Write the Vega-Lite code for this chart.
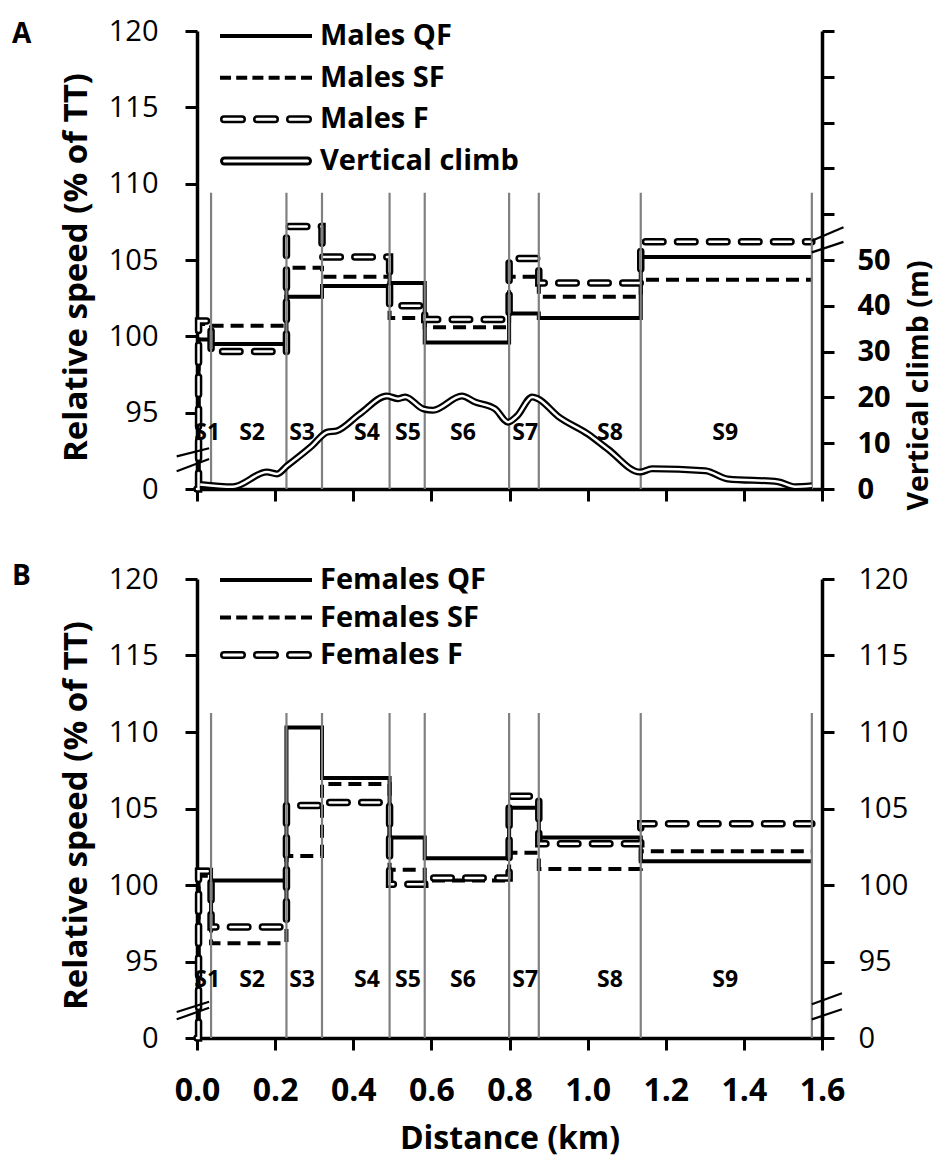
{
  "$schema": "https://vega.github.io/schema/vega-lite/v6.json",
  "background": "white",
  "padding": {"left": 12, "top": 17, "right": 2, "bottom": 2},
  "config": {
    "view": {"stroke": null},
    "font": "Open Sans",
    "axis": {
      "grid": false, "domainColor": "black", "domainWidth": 3.5, "tickColor": "black",
      "tickWidth": 3, "tickSize": 12, "labelColor": "black", "labelFont": "Open Sans",
      "labelFontSize": 29, "labelFontWeight": "normal", "labelFlush": false, "labelOverlap": false,
      "titleFont": "Open Sans", "titleFontSize": 31, "titleFontWeight": "bold", "titleColor": "black"
    }
  },
  "datasets": {
    "males": [
      {"series": "Males QF", "d": 0, "v": 90}, {"series": "Males QF", "d": 0.004, "v": 99.8},
      {"series": "Males QF", "d": 0.036, "v": 99.5}, {"series": "Males QF", "d": 0.229, "v": 102.6},
      {"series": "Males QF", "d": 0.32, "v": 103.3}, {"series": "Males QF", "d": 0.493, "v": 103.5},
      {"series": "Males QF", "d": 0.583, "v": 99.6}, {"series": "Males QF", "d": 0.799, "v": 101.5},
      {"series": "Males QF", "d": 0.875, "v": 101.2}, {"series": "Males QF", "d": 1.136, "v": 105.2},
      {"series": "Males QF", "d": 1.574, "v": 105.2},
      {"series": "Males SF", "d": 0, "v": 90}, {"series": "Males SF", "d": 0.004, "v": 100.8},
      {"series": "Males SF", "d": 0.036, "v": 100.7}, {"series": "Males SF", "d": 0.229, "v": 104.5},
      {"series": "Males SF", "d": 0.32, "v": 103.9}, {"series": "Males SF", "d": 0.493, "v": 101.2},
      {"series": "Males SF", "d": 0.583, "v": 100.6}, {"series": "Males SF", "d": 0.799, "v": 103.9},
      {"series": "Males SF", "d": 0.875, "v": 102.6}, {"series": "Males SF", "d": 1.136, "v": 103.7},
      {"series": "Males SF", "d": 1.574, "v": 103.7},
      {"series": "Males F", "d": 0, "v": 90}, {"series": "Males F", "d": 0.004, "v": 101.0},
      {"series": "Males F", "d": 0.036, "v": 99.0}, {"series": "Males F", "d": 0.229, "v": 107.2},
      {"series": "Males F", "d": 0.32, "v": 105.2}, {"series": "Males F", "d": 0.493, "v": 102.0},
      {"series": "Males F", "d": 0.583, "v": 101.1}, {"series": "Males F", "d": 0.799, "v": 105.1},
      {"series": "Males F", "d": 0.875, "v": 103.5}, {"series": "Males F", "d": 1.136, "v": 106.2},
      {"series": "Males F", "d": 1.574, "v": 106.2}
    ],
    "females": [
      {"series": "Females QF", "d": 0, "v": 90}, {"series": "Females QF", "d": 0.004, "v": 101.0},
      {"series": "Females QF", "d": 0.036, "v": 100.3}, {"series": "Females QF", "d": 0.229, "v": 110.3},
      {"series": "Females QF", "d": 0.32, "v": 107.0}, {"series": "Females QF", "d": 0.493, "v": 103.1},
      {"series": "Females QF", "d": 0.583, "v": 101.75}, {"series": "Females QF", "d": 0.799, "v": 105.05},
      {"series": "Females QF", "d": 0.875, "v": 103.1}, {"series": "Females QF", "d": 1.136, "v": 101.55},
      {"series": "Females QF", "d": 1.574, "v": 101.55},
      {"series": "Females SF", "d": 0, "v": 90}, {"series": "Females SF", "d": 0.004, "v": 100.6},
      {"series": "Females SF", "d": 0.036, "v": 96.2}, {"series": "Females SF", "d": 0.229, "v": 101.9},
      {"series": "Females SF", "d": 0.32, "v": 106.6}, {"series": "Females SF", "d": 0.493, "v": 101.0},
      {"series": "Females SF", "d": 0.583, "v": 100.3}, {"series": "Females SF", "d": 0.799, "v": 102.1},
      {"series": "Females SF", "d": 0.875, "v": 101.05}, {"series": "Females SF", "d": 1.136, "v": 102.2},
      {"series": "Females SF", "d": 1.574, "v": 102.2},
      {"series": "Females F", "d": 0, "v": 90}, {"series": "Females F", "d": 0.004, "v": 100.9},
      {"series": "Females F", "d": 0.036, "v": 97.25}, {"series": "Females F", "d": 0.229, "v": 105.2},
      {"series": "Females F", "d": 0.32, "v": 105.4}, {"series": "Females F", "d": 0.493, "v": 100.05},
      {"series": "Females F", "d": 0.583, "v": 100.45}, {"series": "Females F", "d": 0.799, "v": 105.8},
      {"series": "Females F", "d": 0.875, "v": 102.7}, {"series": "Females F", "d": 1.136, "v": 104.0},
      {"series": "Females F", "d": 1.574, "v": 104.0}
    ],
    "climb": [
      {"d": 0.008, "m": 1.0}, {"d": 0.092, "m": 0.5}, {"d": 0.179, "m": 3.7}, {"d": 0.205, "m": 3.3},
      {"d": 0.23, "m": 5.0}, {"d": 0.294, "m": 9.4}, {"d": 0.333, "m": 12.4}, {"d": 0.358, "m": 12.7},
      {"d": 0.417, "m": 16.4}, {"d": 0.486, "m": 20.3}, {"d": 0.515, "m": 19.7}, {"d": 0.533, "m": 20.1},
      {"d": 0.579, "m": 17.5}, {"d": 0.604, "m": 17.2}, {"d": 0.678, "m": 20.3}, {"d": 0.712, "m": 19.0},
      {"d": 0.763, "m": 17.5}, {"d": 0.796, "m": 14.6}, {"d": 0.819, "m": 15.9}, {"d": 0.858, "m": 20.1},
      {"d": 0.873, "m": 19.7}, {"d": 0.924, "m": 15.9}, {"d": 1.001, "m": 12.0}, {"d": 1.052, "m": 8.7},
      {"d": 1.134, "m": 3.7}, {"d": 1.165, "m": 4.4}, {"d": 1.301, "m": 4.0}, {"d": 1.359, "m": 2.2},
      {"d": 1.487, "m": 1.6}, {"d": 1.531, "m": 0.5}, {"d": 1.574, "m": 0.7}
    ],
    "segments": [
      {"seg": "S1", "end": 0.036, "lx": 0.026}, {"seg": "S2", "end": 0.229, "lx": 0.141},
      {"seg": "S3", "end": 0.32, "lx": 0.269}, {"seg": "S4", "end": 0.493, "lx": 0.435},
      {"seg": "S5", "end": 0.583, "lx": 0.54}, {"seg": "S6", "end": 0.799, "lx": 0.681},
      {"seg": "S7", "end": 0.875, "lx": 0.84}, {"seg": "S8", "end": 1.136, "lx": 1.057},
      {"seg": "S9", "end": 1.574, "lx": 1.352}
    ],
    "breaks": [
      {"panel": "A", "side": "left", "d0": -0.052, "d1": 0.031, "v0": 92.14, "v1": 92.67},
      {"panel": "A", "side": "left", "d0": -0.052, "d1": 0.031, "v0": 91.16, "v1": 91.96},
      {"panel": "A", "side": "right", "d0": 1.574, "d1": 1.655, "v0": 106.26, "v1": 107.14},
      {"panel": "A", "side": "right", "d0": 1.574, "d1": 1.655, "v0": 105.5, "v1": 106.19},
      {"panel": "B", "side": "left", "d0": -0.052, "d1": 0.031, "v0": 91.7, "v1": 92.37},
      {"panel": "B", "side": "left", "d0": -0.052, "d1": 0.031, "v0": 91.22, "v1": 91.98},
      {"panel": "B", "side": "right", "d0": 1.574, "d1": 1.651, "v0": 92.2, "v1": 92.92},
      {"panel": "B", "side": "right", "d0": 1.574, "d1": 1.651, "v0": 91.22, "v1": 91.88}
    ],
    "legend_m": [
      {"label": "Males QF", "style": "QF"}, {"label": "Males SF", "style": "SF"},
      {"label": "Males F", "style": "F"}, {"label": "Vertical climb", "style": "climb"}
    ],
    "legend_f": [
      {"label": "Females QF", "style": "QF"}, {"label": "Females SF", "style": "SF"},
      {"label": "Females F", "style": "F"}
    ]
  },
  "spacing": 52,
  "vconcat": [
    {
      "title": {"text": "A", "anchor": "start", "frame": "group", "fontSize": 28, "fontWeight": "bold", "font": "Open Sans", "color": "black", "dx": -185, "dy": 54, "offset": 0, "baseline": "alphabetic"},
      "width": 625,
      "height": 458,
      "resolve": {"scale": {"y": "independent"}},
      "layer": [
        {
          "data": {"name": "males"},
          "layer": [
            {
              "transform": [{"filter": "datum.series == 'Males QF'"}],
              "mark": {"type": "line", "interpolate": "step-after", "strokeWidth": 4, "strokeCap": "butt", "color": "black"},
              "encoding": {
                "x": {"field": "d", "type": "quantitative", "scale": {"domain": [0, 1.6], "nice": false, "zero": false},
                      "axis": {"values": [0, 0.2, 0.4, 0.6, 0.8, 1.0, 1.2, 1.4, 1.6], "labels": false, "title": null, "tickSize": 12}},
                "y": {"field": "v", "type": "quantitative", "scale": {"domain": [90, 120], "nice": false, "zero": false},
                      "axis": {"orient": "left", "values": [90, 95, 100, 105, 110, 115, 120], "labelExpr": "datum.value == 90 ? '0' : datum.label",
                               "title": "Relative speed (% of TT)", "titleFontSize": 33, "titleY": 236, "titlePadding": 15, "labelPadding": 27}}
              }
            },
            {
              "transform": [{"filter": "datum.series == 'Males SF'"}],
              "mark": {"type": "line", "interpolate": "step-after", "strokeWidth": 4, "strokeDash": [13, 7], "strokeCap": "butt", "color": "black"},
              "encoding": {
                "x": {"field": "d", "type": "quantitative", "scale": {"domain": [0, 1.6], "nice": false, "zero": false}},
                "y": {"field": "v", "type": "quantitative", "scale": {"domain": [90, 120], "nice": false, "zero": false}}
              }
            },
            {
              "transform": [{"filter": "datum.series == 'Males F'"}],
              "mark": {"type": "line", "interpolate": "step-after", "strokeWidth": 7.5, "strokeDash": [17.5, 14.5], "strokeCap": "round", "color": "black"},
              "encoding": {
                "x": {"field": "d", "type": "quantitative", "scale": {"domain": [0, 1.6], "nice": false, "zero": false}},
                "y": {"field": "v", "type": "quantitative", "scale": {"domain": [90, 120], "nice": false, "zero": false}}
              }
            },
            {
              "transform": [{"filter": "datum.series == 'Males F'"}],
              "mark": {"type": "line", "interpolate": "step-after", "strokeWidth": 2.5, "strokeDash": [17.5, 14.5], "strokeCap": "round", "color": "white"},
              "encoding": {
                "x": {"field": "d", "type": "quantitative", "scale": {"domain": [0, 1.6], "nice": false, "zero": false}},
                "y": {"field": "v", "type": "quantitative", "scale": {"domain": [90, 120], "nice": false, "zero": false}}
              }
            },
            {
              "data": {"name": "segments"},
              "mark": {"type": "rule", "color": "#808080", "strokeWidth": 2.2},
              "encoding": {
                "x": {"field": "end", "type": "quantitative", "scale": {"domain": [0, 1.6], "nice": false, "zero": false}},
                "y": {"datum": 90, "type": "quantitative", "scale": {"domain": [90, 120], "nice": false, "zero": false}},
                "y2": {"datum": 109.4}
              }
            },
            {
              "data": {"name": "segments"},
              "mark": {"type": "text", "font": "Open Sans", "fontSize": 23, "fontWeight": "bold", "color": "black", "align": "center", "baseline": "middle"},
              "encoding": {
                "x": {"field": "lx", "type": "quantitative", "scale": {"domain": [0, 1.6], "nice": false, "zero": false}},
                "y": {"datum": 93.7, "type": "quantitative", "scale": {"domain": [90, 120], "nice": false, "zero": false}},
                "text": {"field": "seg"}
              }
            },
            {
              "data": {"name": "breaks"},
              "transform": [{"filter": "datum.panel == 'A'"}],
              "mark": {"type": "rule", "color": "black", "strokeWidth": 2.2},
              "encoding": {
                "x": {"field": "d0", "type": "quantitative", "scale": {"domain": [0, 1.6], "nice": false, "zero": false}},
                "x2": {"field": "d1"},
                "y": {"field": "v0", "type": "quantitative", "scale": {"domain": [90, 120], "nice": false, "zero": false}},
                "y2": {"field": "v1"}
              }
            }
          ]
        },
        {
          "data": {"name": "climb"},
          "layer": [
            {
              "mark": {"type": "line", "interpolate": "monotone", "strokeWidth": 7, "color": "black"},
              "encoding": {
                "x": {"field": "d", "type": "quantitative", "scale": {"domain": [0, 1.6], "nice": false, "zero": false}},
                "y": {"field": "m", "type": "quantitative", "scale": {"domain": [0, 100], "nice": false, "zero": true},
                      "axis": {"orient": "right", "values": [0, 10, 20, 30, 40, 50, 60, 70, 80, 90, 100], "labelExpr": "datum.value <= 50 ? datum.label : ''",
                               "labelFontWeight": "bold", "labelPadding": 23, "title": "Vertical climb (m)", "titleFontSize": 28.5, "titleAngle": 270, "titleBaseline": "top",
                               "titleY": 354, "titlePadding": 14}}
              }
            },
            {
              "mark": {"type": "line", "interpolate": "monotone", "strokeWidth": 2.5, "color": "white"},
              "encoding": {
                "x": {"field": "d", "type": "quantitative", "scale": {"domain": [0, 1.6], "nice": false, "zero": false}},
                "y": {"field": "m", "type": "quantitative", "scale": {"domain": [0, 100], "nice": false, "zero": true}}
              }
            }
          ]
        },
        {
          "data": {"name": "legend_m"},
          "encoding": {
            "y": {"field": "label", "type": "ordinal", "axis": null,
                  "scale": {"type": "point", "domain": ["Males QF", "Males SF", "Males F", "Vertical climb"], "range": [5, 130], "padding": 0}}
          },
          "layer": [
            {
              "transform": [{"filter": "datum.style == 'QF'"}],
              "mark": {"type": "rule", "color": "black", "strokeWidth": 4},
              "encoding": {"x": {"datum": 0.0589, "type": "quantitative"}, "x2": {"datum": 0.2944}}
            },
            {
              "transform": [{"filter": "datum.style == 'SF'"}],
              "mark": {"type": "rule", "color": "black", "strokeWidth": 4, "strokeDash": [11, 5.2]},
              "encoding": {"x": {"datum": 0.0589, "type": "quantitative"}, "x2": {"datum": 0.2944}}
            },
            {
              "transform": [{"filter": "datum.style == 'F'"}],
              "mark": {"type": "rule", "color": "black", "strokeWidth": 8, "strokeDash": [18, 15], "strokeCap": "round"},
              "encoding": {"x": {"datum": 0.0691, "type": "quantitative"}, "x2": {"datum": 0.2842}}
            },
            {
              "transform": [{"filter": "datum.style == 'F'"}],
              "mark": {"type": "rule", "color": "white", "strokeWidth": 3, "strokeDash": [18, 15], "strokeCap": "round"},
              "encoding": {"x": {"datum": 0.0691, "type": "quantitative"}, "x2": {"datum": 0.2842}}
            },
            {
              "transform": [{"filter": "datum.style == 'climb'"}],
              "mark": {"type": "rule", "color": "black", "strokeWidth": 9, "strokeCap": "round"},
              "encoding": {"x": {"datum": 0.0704, "type": "quantitative"}, "x2": {"datum": 0.2829}}
            },
            {
              "transform": [{"filter": "datum.style == 'climb'"}],
              "mark": {"type": "rule", "color": "white", "strokeWidth": 3, "strokeCap": "round"},
              "encoding": {"x": {"datum": 0.0704, "type": "quantitative"}, "x2": {"datum": 0.2829}}
            },
            {
              "mark": {"type": "text", "font": "Open Sans", "fontSize": 29, "fontWeight": "bold", "color": "black", "align": "left", "baseline": "middle"},
              "encoding": {"x": {"datum": 0.3149, "type": "quantitative"}, "text": {"field": "label"}}
            }
          ]
        }
      ]
    },
    {
      "title": {"text": "B", "anchor": "start", "frame": "group", "fontSize": 28, "fontWeight": "bold", "font": "Open Sans", "color": "black", "dx": -185, "dy": 48, "offset": 0, "baseline": "alphabetic"},
      "width": 625,
      "height": 459,
      "resolve": {"scale": {"y": "independent"}},
      "layer": [
        {
          "data": {"name": "females"},
          "layer": [
            {
              "transform": [{"filter": "datum.series == 'Females QF'"}],
              "mark": {"type": "line", "interpolate": "step-after", "strokeWidth": 4, "strokeCap": "butt", "color": "black"},
              "encoding": {
                "x": {"field": "d", "type": "quantitative", "scale": {"domain": [0, 1.6], "nice": false, "zero": false},
                      "axis": {"values": [0, 0.2, 0.4, 0.6, 0.8, 1.0, 1.2, 1.4, 1.6], "format": ".1f", "labelFontWeight": "bold", "labelFontSize": 32,
                               "labelPadding": 25, "title": "Distance (km)", "titleFontSize": 32, "titlePadding": 17, "tickSize": 12}},
                "y": {"field": "v", "type": "quantitative", "scale": {"domain": [90, 120], "nice": false, "zero": false},
                      "axis": {"orient": "left", "values": [90, 95, 100, 105, 110, 115, 120], "labelExpr": "datum.value == 90 ? '0' : datum.label",
                               "title": "Relative speed (% of TT)", "titleFontSize": 33, "titleY": 236, "titlePadding": 15, "labelPadding": 27}}
              }
            },
            {
              "transform": [{"filter": "datum.series == 'Females SF'"}],
              "mark": {"type": "line", "interpolate": "step-after", "strokeWidth": 4, "strokeDash": [13, 7], "strokeCap": "butt", "color": "black"},
              "encoding": {
                "x": {"field": "d", "type": "quantitative", "scale": {"domain": [0, 1.6], "nice": false, "zero": false}},
                "y": {"field": "v", "type": "quantitative", "scale": {"domain": [90, 120], "nice": false, "zero": false}}
              }
            },
            {
              "transform": [{"filter": "datum.series == 'Females F'"}],
              "mark": {"type": "line", "interpolate": "step-after", "strokeWidth": 7.5, "strokeDash": [17.5, 14.5], "strokeCap": "round", "color": "black"},
              "encoding": {
                "x": {"field": "d", "type": "quantitative", "scale": {"domain": [0, 1.6], "nice": false, "zero": false}},
                "y": {"field": "v", "type": "quantitative", "scale": {"domain": [90, 120], "nice": false, "zero": false}}
              }
            },
            {
              "transform": [{"filter": "datum.series == 'Females F'"}],
              "mark": {"type": "line", "interpolate": "step-after", "strokeWidth": 2.5, "strokeDash": [17.5, 14.5], "strokeCap": "round", "color": "white"},
              "encoding": {
                "x": {"field": "d", "type": "quantitative", "scale": {"domain": [0, 1.6], "nice": false, "zero": false}},
                "y": {"field": "v", "type": "quantitative", "scale": {"domain": [90, 120], "nice": false, "zero": false}}
              }
            },
            {
              "data": {"name": "segments"},
              "mark": {"type": "rule", "color": "#808080", "strokeWidth": 2.2},
              "encoding": {
                "x": {"field": "end", "type": "quantitative", "scale": {"domain": [0, 1.6], "nice": false, "zero": false}},
                "y": {"datum": 90, "type": "quantitative", "scale": {"domain": [90, 120], "nice": false, "zero": false}},
                "y2": {"datum": 111.25}
              }
            },
            {
              "data": {"name": "segments"},
              "mark": {"type": "text", "font": "Open Sans", "fontSize": 23, "fontWeight": "bold", "color": "black", "align": "center", "baseline": "middle"},
              "encoding": {
                "x": {"field": "lx", "type": "quantitative", "scale": {"domain": [0, 1.6], "nice": false, "zero": false}},
                "y": {"datum": 93.8, "type": "quantitative", "scale": {"domain": [90, 120], "nice": false, "zero": false}},
                "text": {"field": "seg"}
              }
            },
            {
              "data": {"name": "breaks"},
              "transform": [{"filter": "datum.panel == 'B' && datum.side == 'left'"}],
              "mark": {"type": "rule", "color": "black", "strokeWidth": 2.2},
              "encoding": {
                "x": {"field": "d0", "type": "quantitative", "scale": {"domain": [0, 1.6], "nice": false, "zero": false}},
                "x2": {"field": "d1"},
                "y": {"field": "v0", "type": "quantitative", "scale": {"domain": [90, 120], "nice": false, "zero": false}},
                "y2": {"field": "v1"}
              }
            }
          ]
        },
        {
          "data": {"name": "breaks"},
          "transform": [{"filter": "datum.panel == 'B' && datum.side == 'right'"}],
          "mark": {"type": "rule", "color": "black", "strokeWidth": 2.2},
          "encoding": {
            "x": {"field": "d0", "type": "quantitative", "scale": {"domain": [0, 1.6], "nice": false, "zero": false}},
            "x2": {"field": "d1"},
            "y": {"field": "v0", "type": "quantitative", "scale": {"domain": [90, 120], "nice": false, "zero": false},
                  "axis": {"orient": "right", "values": [90, 95, 100, 105, 110, 115, 120], "labelExpr": "datum.value == 90 ? '0' : datum.label",
                           "labelPadding": 24, "title": null}},
            "y2": {"field": "v1"}
          }
        },
        {
          "data": {"name": "legend_f"},
          "encoding": {
            "y": {"field": "label", "type": "ordinal", "axis": null,
                  "scale": {"type": "point", "domain": ["Females QF", "Females SF", "Females F"], "range": [1, 76], "padding": 0}}
          },
          "layer": [
            {
              "transform": [{"filter": "datum.style == 'QF'"}],
              "mark": {"type": "rule", "color": "black", "strokeWidth": 4},
              "encoding": {"x": {"datum": 0.0589, "type": "quantitative"}, "x2": {"datum": 0.2944}}
            },
            {
              "transform": [{"filter": "datum.style == 'SF'"}],
              "mark": {"type": "rule", "color": "black", "strokeWidth": 4, "strokeDash": [11, 5.2]},
              "encoding": {"x": {"datum": 0.0589, "type": "quantitative"}, "x2": {"datum": 0.2944}}
            },
            {
              "transform": [{"filter": "datum.style == 'F'"}],
              "mark": {"type": "rule", "color": "black", "strokeWidth": 8, "strokeDash": [18, 15], "strokeCap": "round"},
              "encoding": {"x": {"datum": 0.0691, "type": "quantitative"}, "x2": {"datum": 0.2842}}
            },
            {
              "transform": [{"filter": "datum.style == 'F'"}],
              "mark": {"type": "rule", "color": "white", "strokeWidth": 3, "strokeDash": [18, 15], "strokeCap": "round"},
              "encoding": {"x": {"datum": 0.0691, "type": "quantitative"}, "x2": {"datum": 0.2842}}
            },
            {
              "mark": {"type": "text", "font": "Open Sans", "fontSize": 29, "fontWeight": "bold", "color": "black", "align": "left", "baseline": "middle"},
              "encoding": {"x": {"datum": 0.3149, "type": "quantitative"}, "text": {"field": "label"}}
            }
          ]
        }
      ]
    }
  ]
}
